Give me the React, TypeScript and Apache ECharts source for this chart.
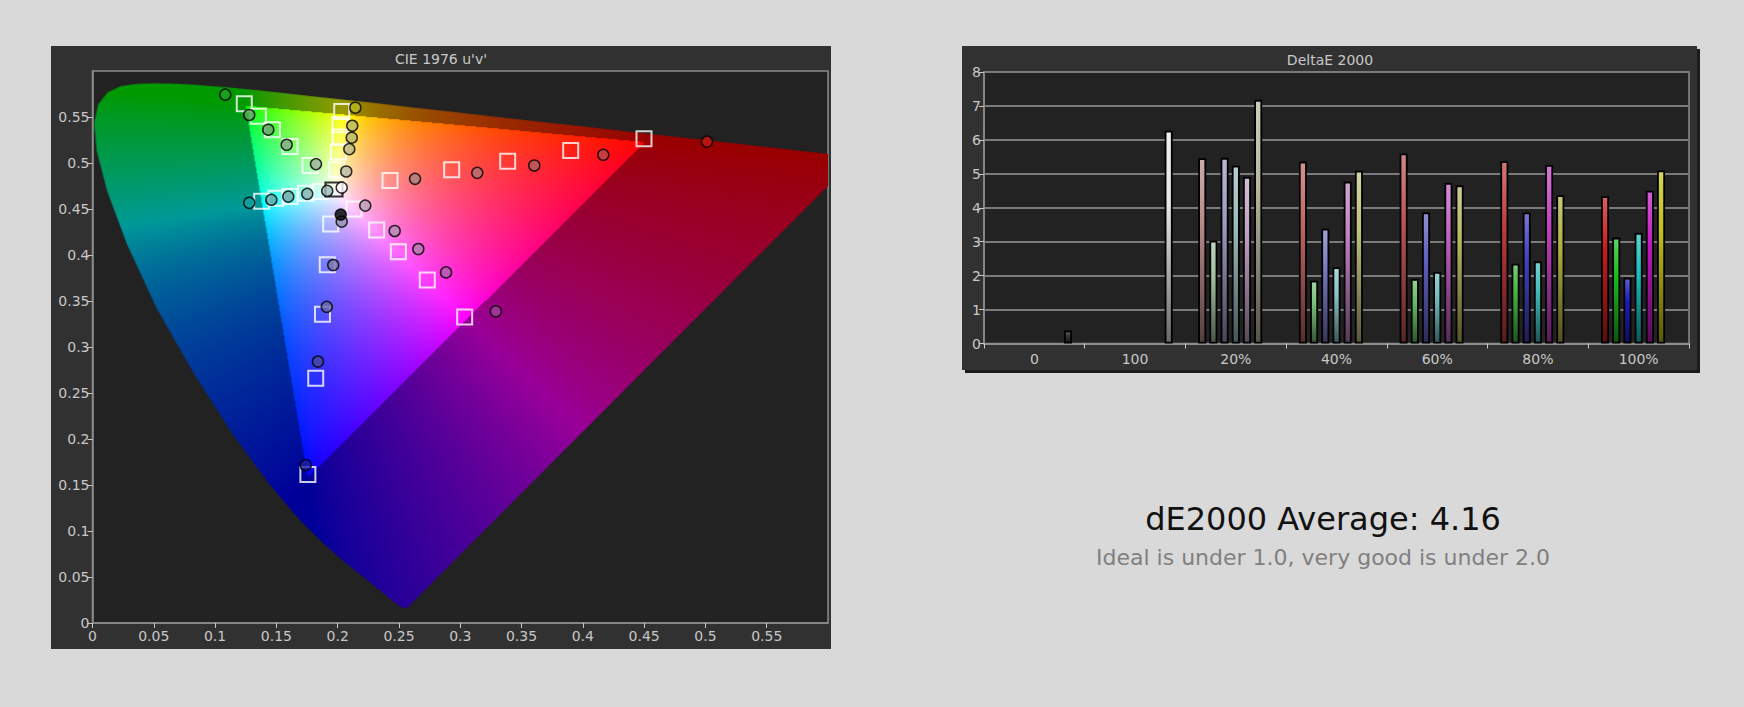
import React, { useEffect, useRef } from 'react';
import * as echarts from 'echarts';

const U_MAX = 0.6;
const V_MAX = 0.6;

// CIE 1976 spectral locus, 380 nm -> 700 nm
const locusU = [0.2568, 0.2545, 0.2522, 0.2461, 0.2347, 0.2161, 0.2033, 0.1877, 0.169, 0.1441, 0.1147, 0.0828, 0.0521, 0.0282, 0.0119, 0.0035, 0.0014, 0.0046, 0.0123, 0.0231, 0.036, 0.0501, 0.0643, 0.0792, 0.0953, 0.1127, 0.1319, 0.1531, 0.1766, 0.2026, 0.2312, 0.2623, 0.296, 0.3315, 0.3681, 0.4035, 0.4379, 0.4692, 0.5203, 0.5565, 0.583, 0.6005, 0.6109, 0.6199, 0.6234];
const locusV = [0.0166, 0.0159, 0.0169, 0.0226, 0.035, 0.0549, 0.0688, 0.0871, 0.1119, 0.151, 0.2044, 0.2708, 0.3427, 0.4117, 0.4698, 0.5131, 0.5432, 0.5638, 0.577, 0.5837, 0.5861, 0.5868, 0.5865, 0.5856, 0.5841, 0.5821, 0.5796, 0.5766, 0.5732, 0.5694, 0.5651, 0.5604, 0.5554, 0.5501, 0.5446, 0.5393, 0.5342, 0.5296, 0.5219, 0.5165, 0.5125, 0.5099, 0.5084, 0.507, 0.5065];

// saturation sweeps 20% -> 100%, [u', v']
const redTargets = [[0.2427, 0.481], [0.293, 0.4926], [0.3387, 0.502], [0.3901, 0.5136], [0.4499, 0.5264]];
const redMeasured = [[0.2631, 0.4828], [0.3139, 0.4893], [0.3604, 0.4973], [0.4167, 0.5089], [0.5013, 0.5233]];
const greenTargets = [[0.1774, 0.4973], [0.1611, 0.518], [0.1467, 0.5362], [0.1353, 0.5507], [0.1238, 0.5645]];
const greenMeasured = [[0.1823, 0.4988], [0.1584, 0.5198], [0.1434, 0.5362], [0.1279, 0.5522], [0.1083, 0.5743]];
const blueTargets = [[0.1943, 0.4338], [0.1915, 0.3894], [0.1876, 0.3357], [0.1821, 0.266], [0.1757, 0.1614]];
const blueMeasured = [[0.2033, 0.4363], [0.1964, 0.3891], [0.1911, 0.3437], [0.1839, 0.2842], [0.1739, 0.1716]];
const cyanTargets = [[0.1856, 0.469], [0.1739, 0.4672], [0.1611, 0.4635], [0.1497, 0.4618], [0.138, 0.4585]];
const cyanMeasured = [[0.1915, 0.4697], [0.1752, 0.4665], [0.1597, 0.4635], [0.1459, 0.46], [0.1279, 0.4567]];
const magentaTargets = [[0.2133, 0.4501], [0.2318, 0.4272], [0.2495, 0.4036], [0.2731, 0.3728], [0.3036, 0.3327]];
const magentaMeasured = [[0.2225, 0.4537], [0.2465, 0.4261], [0.2658, 0.4065], [0.2884, 0.3811], [0.329, 0.3388]];
const yellowTargets = [[0.1992, 0.4926], [0.2005, 0.5119], [0.2019, 0.5282], [0.2019, 0.5416], [0.2033, 0.556]];
const yellowMeasured = [[0.207, 0.4908], [0.2095, 0.5151], [0.2115, 0.5275], [0.2119, 0.5405], [0.2144, 0.5601]];
const whiteTarget = [[0.197, 0.4712]];
const whiteMeasured = [[0.2033, 0.4733]];
const blackMeasured = [[0.2025, 0.4439]];

// fills of the measured dots
const redFill = ['#a88080', '#b07070', '#b06060', '#b84848', '#c81818'];
const greenFill = ['#98b098', '#88a888', '#70a070', '#58a058', '#20a020'];
const blueFill = ['#9090b0', '#7878a8', '#6868a8', '#4848a0', '#2020a0'];
const cyanFill = ['#a0b8b8', '#88b0b0', '#78a8a8', '#60a8a8', '#10a0a0'];
const magentaFill = ['#b8a0b8', '#b090b0', '#b080b0', '#b060b0', '#a040a0'];
const yellowFill = ['#b8b8a0', '#b8b888', '#b8b870', '#b8b860', '#b8b820'];

// DeltaE 2000 bars
const barCategories = ['0', '100', '20%', '40%', '60%', '80%', '100%'];
const dERed = [null, null, 5.46, 5.36, 5.6, 5.37, 4.34];
const dEGreen = [null, null, 3.03, 1.85, 1.9, 2.35, 3.12];
const dEBlue = [null, null, 5.47, 3.38, 3.86, 3.86, 1.94];
const dECyan = [null, null, 5.24, 2.25, 2.11, 2.42, 3.26];
const dEMagenta = [null, null, 4.91, 4.77, 4.73, 5.26, 4.5];
const dEYellow = [null, null, 7.18, 5.09, 4.66, 4.37, 5.1];
const dEGray = [0.38, 6.27, null, null, null, null, null];

const redBar = ['', '', '#b88a8a', '#c06464', '#c05454', '#c03c3c', '#c81c1c'];
const greenBar = ['', '', '#a0c0a0', '#78c078', '#60c060', '#40b840', '#18c018'];
const blueBar = ['', '', '#9a9ac0', '#7878c0', '#6060c0', '#4040c0', '#1c1cc0'];
const cyanBar = ['', '', '#98bcbc', '#88c4c4', '#70c0c0', '#40bcbc', '#18c0c0'];
const magentaBar = ['', '', '#c0a0c0', '#c080c0', '#c060c0', '#c040c0', '#c018c0'];
const yellowBar = ['', '', '#b8b8a0', '#c0c080', '#b8b860', '#b0b040', '#c0c018'];
const grayBar = ['#383838', '#e8e8e8', '', '', '', '', ''];

const FONT = '"DejaVu Sans", sans-serif';
const LABEL = '#c8c8c8';

const mix = (hex: string, target: string, t: number) => {
  const a = parseInt(hex.slice(1), 16);
  const b = parseInt(target.slice(1), 16);
  const ch = (n: number, s: number) => (n >> s) & 255;
  const c = (s: number) => Math.round(ch(a, s) * (1 - t) + ch(b, s) * t);
  return `rgb(${c(16)},${c(8)},${c(0)})`;
};

const barFill = (c: string) =>
  new echarts.graphic.LinearGradient(0, 0, 0, 1, [
    { offset: 0, color: mix(c, '#ffffff', 0.3) },
    { offset: 0.35, color: c },
    { offset: 1, color: mix(c, '#000000', 0.55) },
  ]);

// colour of a chromaticity, darker when it falls outside the sRGB gamut
const chroma = (u: number, v: number) => {
  const den = 6 * u - 16 * v + 12;
  const x = (9 * u) / den;
  const y = Math.max((4 * v) / den, 1e-4);
  const X = x / y;
  const Z = (1 - x - y) / y;
  let r = 3.2406 * X - 1.5372 - 0.4986 * Z;
  let g = -0.9689 * X + 1.8758 + 0.0415 * Z;
  let b = 0.0557 * X - 0.204 + 1.057 * Z;
  const out = r < 0 || g < 0 || b < 0;
  r = Math.max(r, 0);
  g = Math.max(g, 0);
  b = Math.max(b, 0);
  const m = Math.max(r, g, b, 1e-6);
  const k = out ? 0.6 : 1;
  return [r, g, b].map((c) => Math.round(255 * k * Math.pow(c / m, 0.75)));
};

const buildLocusImage = (w: number, h: number) => {
  const base = document.createElement('canvas');
  base.width = w;
  base.height = h;
  const ctx = base.getContext('2d')!;
  const img = ctx.createImageData(w, h);
  for (let j = 0; j < h; j++) {
    const v = (1 - (j + 0.5) / h) * V_MAX;
    for (let i = 0; i < w; i++) {
      const u = ((i + 0.5) / w) * U_MAX;
      const [r, g, b] = chroma(u, v);
      const p = (j * w + i) * 4;
      img.data[p] = r;
      img.data[p + 1] = g;
      img.data[p + 2] = b;
      img.data[p + 3] = 255;
    }
  }
  ctx.putImageData(img, 0, 0);
  const out = document.createElement('canvas');
  out.width = w;
  out.height = h;
  const octx = out.getContext('2d')!;
  octx.beginPath();
  locusU.forEach((u, k) => {
    const px = (u / U_MAX) * w;
    const py = (1 - locusV[k] / V_MAX) * h;
    if (k === 0) octx.moveTo(px, py);
    else octx.lineTo(px, py);
  });
  octx.closePath();
  octx.clip();
  octx.drawImage(base, 0, 0);
  return out.toDataURL('image/png');
};

const targetSeries = (data: number[][], border = '#ffffff', size: any = 15) => ({
  type: 'scatter',
  xAxisIndex: 0,
  yAxisIndex: 0,
  data,
  symbol: 'rect',
  symbolSize: size,
  z: 3,
  silent: true,
  itemStyle: { color: 'rgba(0,0,0,0)', borderColor: border, borderWidth: 2 },
});

const measuredSeries = (data: number[][], fills: string[], z = 4) => ({
  type: 'scatter',
  xAxisIndex: 0,
  yAxisIndex: 0,
  symbol: 'circle',
  symbolSize: 11,
  z,
  silent: true,
  data: data.map((d, i) => ({ value: d, itemStyle: { color: fills[i] } })),
  itemStyle: { borderColor: '#000', borderWidth: 1.5 },
});

const barSeries = (values: (number | null)[], colors: string[]) => ({
  type: 'bar',
  xAxisIndex: 1,
  yAxisIndex: 1,
  barWidth: 8,
  barGap: '40%',
  data: values.map((v, i) =>
    v == null ? '-' : { value: v, itemStyle: { color: barFill(colors[i]) } }
  ),
  itemStyle: { borderColor: '#000', borderWidth: 1.8 },
});

const axisLabel = { color: LABEL, fontSize: 14, fontFamily: FONT };

const App: React.FC = () => {
  const chartRef = useRef<HTMLDivElement>(null);

  useEffect(() => {
    if (!chartRef.current) return;
    const chart = echarts.init(chartRef.current, undefined, { renderer: 'svg' });
    const locusImage = buildLocusImage(736, 552);

    const option: any = {
      animation: false,
      backgroundColor: '#d9d9d9',
      textStyle: { fontFamily: FONT },
      graphic: [
        { type: 'rect', z: -10, shape: { x: 51, y: 46, width: 780, height: 603 }, style: { fill: '#313131' } },
        { type: 'rect', z: -11, shape: { x: 965, y: 49, width: 735, height: 324 }, style: { fill: '#1c1c1c' } },
        { type: 'rect', z: -10, shape: { x: 962, y: 46, width: 735, height: 324 }, style: { fill: '#313131' } },
        {
          type: 'text', x: 441, y: 59, z: 5,
          style: { text: "CIE 1976 u'v'", fill: LABEL, fontSize: 14, fontFamily: FONT, textAlign: 'center', textVerticalAlign: 'middle' },
        },
        {
          type: 'text', x: 1330, y: 60, z: 5,
          style: { text: 'DeltaE 2000', fill: LABEL, fontSize: 14, fontFamily: FONT, textAlign: 'center', textVerticalAlign: 'middle' },
        },
        {
          type: 'text', x: 1323, y: 519, z: 5,
          style: { text: 'dE2000 Average: 4.16', fill: '#111111', fontSize: 32, fontFamily: FONT, textAlign: 'center', textVerticalAlign: 'middle' },
        },
        {
          type: 'text', x: 1323, y: 557, z: 5,
          style: { text: 'Ideal is under 1.0, very good is under 2.0', fill: '#808080', fontSize: 22, fontFamily: FONT, textAlign: 'center', textVerticalAlign: 'middle' },
        },
      ],
      grid: [
        { left: 92.5, top: 71, width: 735.5, height: 552, show: true, backgroundColor: '#222222', borderColor: '#8c8c8c', borderWidth: 1.5 },
        { left: 984, top: 72, width: 705, height: 271.5, show: true, backgroundColor: '#222222', borderColor: '#8c8c8c', borderWidth: 1.5 },
      ],
      xAxis: [
        {
          type: 'value', gridIndex: 0, min: 0, max: U_MAX, interval: 0.05,
          axisLine: { show: true, lineStyle: { color: '#8c8c8c', width: 1.5 } },
          axisTick: { show: true, length: 5, lineStyle: { color: LABEL } },
          axisLabel: { ...axisLabel, margin: 6, showMaxLabel: false },
          splitLine: { show: false },
        },
        {
          type: 'category', gridIndex: 1, data: barCategories,
          axisLine: { show: true, lineStyle: { color: '#8c8c8c', width: 2 } },
          axisTick: { show: true, length: 5, lineStyle: { color: LABEL } },
          axisLabel: { ...axisLabel, margin: 8 },
        },
      ],
      yAxis: [
        {
          type: 'value', gridIndex: 0, min: 0, max: V_MAX, interval: 0.05,
          axisLine: { show: true, lineStyle: { color: '#8c8c8c', width: 1.5 } },
          axisTick: { show: true, length: 5, lineStyle: { color: LABEL } },
          axisLabel: { ...axisLabel, margin: 3, showMaxLabel: false },
          splitLine: { show: false },
        },
        {
          type: 'value', gridIndex: 1, min: 0, max: 8, interval: 1,
          axisLine: { show: true, lineStyle: { color: '#8c8c8c', width: 1.5 } },
          axisTick: { show: true, length: 5, lineStyle: { color: LABEL } },
          axisLabel: { ...axisLabel, margin: 3 },
          splitLine: { show: true, lineStyle: { color: '#7a7a7a', width: 2 } },
        },
      ],
      series: [
        {
          type: 'custom',
          xAxisIndex: 0,
          yAxisIndex: 0,
          silent: true,
          clip: true,
          z: 1,
          data: [[0, 0]],
          renderItem: (_params: any, api: any) => {
            const tl = api.coord([0, V_MAX]);
            const br = api.coord([U_MAX, 0]);
            return {
              type: 'image',
              style: { image: locusImage, x: tl[0], y: tl[1], width: br[0] - tl[0], height: br[1] - tl[1] },
            };
          },
        },
        targetSeries(redTargets),
        targetSeries(greenTargets),
        targetSeries(blueTargets),
        targetSeries(cyanTargets),
        targetSeries(magentaTargets),
        targetSeries(yellowTargets),
        targetSeries(whiteTarget, '#000000', [17, 14]),
        measuredSeries(redMeasured, redFill),
        measuredSeries(greenMeasured, greenFill),
        measuredSeries(blueMeasured, blueFill),
        measuredSeries(cyanMeasured, cyanFill),
        measuredSeries(magentaMeasured, magentaFill),
        measuredSeries(yellowMeasured, yellowFill),
        measuredSeries(whiteMeasured, ['#ffffff'], 5),
        measuredSeries(blackMeasured, ['#000000'], 6),
        barSeries(dERed, redBar),
        barSeries(dEGreen, greenBar),
        barSeries(dEBlue, blueBar),
        barSeries(dECyan, cyanBar),
        barSeries(dEMagenta, magentaBar),
        barSeries(dEYellow, yellowBar),
        barSeries(dEGray, grayBar),
      ],
    };

    chart.setOption(option);

    return () => {
      chart.dispose();
    };
  }, []);

  return (
    <div
      ref={chartRef}
      style={{ position: 'fixed', left: 0, top: 0, width: '1744px', height: '707px' }}
    />
  );
};

export default App;
